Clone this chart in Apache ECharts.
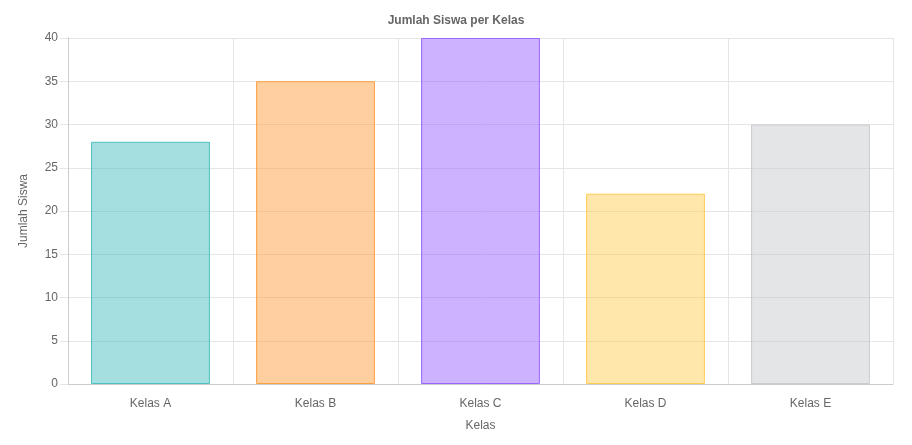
<!DOCTYPE html>
<html>
<head>
<meta charset="UTF-8"/>
<title>Jumlah Siswa per Kelas</title>
<script src="https://cdn.jsdelivr.net/npm/echarts@6/dist/echarts.min.js"></script>
<style>html,body{margin:0;padding:0;background:#fff}</style>
</head>
<body>
<div id="main" style="width:912px;height:445px;"></div>
<script>
var categories = ['Kelas A', 'Kelas B', 'Kelas C', 'Kelas D', 'Kelas E'];
var values = [28, 35, 40, 22, 30];
var fills = ['rgba(75,192,192,0.5)', 'rgba(255,159,64,0.5)', 'rgba(153,102,255,0.5)', 'rgba(255,205,86,0.5)', 'rgba(201,203,207,0.5)'];
var borders = ['rgb(75,192,192)', 'rgb(255,159,64)', 'rgb(153,102,255)', 'rgb(255,205,86)', 'rgb(201,203,207)'];

var chart = echarts.init(document.getElementById('main'));
var font = 'Helvetica, Arial, "Liberation Sans", sans-serif';
chart.setOption({
    title: {
        text: 'Jumlah Siswa per Kelas', left: 'center', top: 10,
        textStyle: { fontSize: 12, fontWeight: 'bold', color: '#666', fontFamily: font }
    },
    grid: { left: 68, right: 19, top: 38, bottom: 61 },
    xAxis: {
        type: 'category', data: categories,
        name: 'Kelas', nameLocation: 'middle', nameGap: 36,
        nameTextStyle: { color: '#666', fontSize: 12, fontFamily: font },
        axisLine: { lineStyle: { color: '#ccc' } },
        axisTick: { length: 8, lineStyle: { color: '#e5e5e5' } },
        axisLabel: { color: '#666', fontSize: 12, margin: 14, fontFamily: font },
        splitLine: { show: true, lineStyle: { color: '#e5e5e5' } }
    },
    yAxis: {
        type: 'value', min: 0, max: 40, interval: 5,
        name: 'Jumlah Siswa', nameLocation: 'middle', nameGap: 38,
        nameTextStyle: { color: '#666', fontSize: 12, fontFamily: font },
        axisLine: { show: true, lineStyle: { color: '#ccc' } },
        axisTick: { show: true, length: 8, lineStyle: { color: '#e5e5e5' } },
        axisLabel: { color: '#666', fontSize: 12, margin: 10, fontFamily: font },
        splitLine: { lineStyle: { color: '#e5e5e5' } }
    },
    series: [{
        type: 'bar',
        barWidth: '72%',
        data: values.map(function (v, i) {
            return { value: v, itemStyle: { color: fills[i], borderColor: borders[i], borderWidth: 1 } };
        })
    }]
});
</script>
</body>
</html>
